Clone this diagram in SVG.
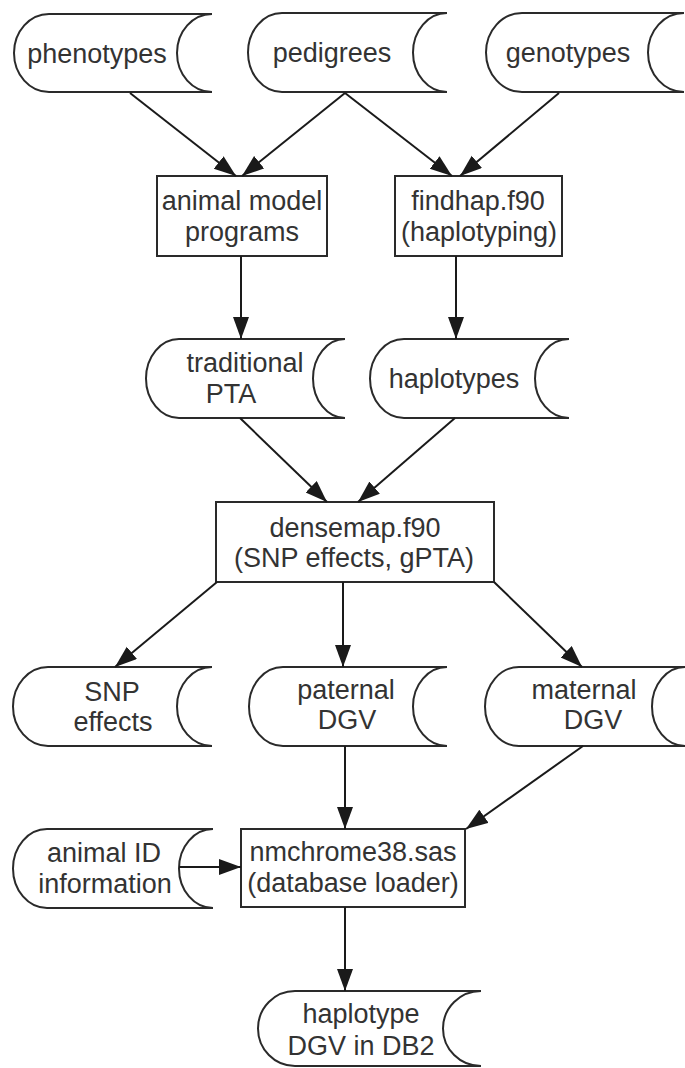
<svg xmlns="http://www.w3.org/2000/svg" width="685" height="1068" viewBox="0 0 685 1068">
<style>
.s{fill:#fff;stroke:#2a2a2a;stroke-width:2}
.b{fill:#fff;stroke:#2a2a2a;stroke-width:2}
.t{font-family:"Liberation Sans",Arial,sans-serif;font-size:27px;fill:#333;text-anchor:middle}
.c{fill:none;stroke:#1a1a1a;stroke-width:2}
</style>
<defs>
<marker id="ah" markerUnits="userSpaceOnUse" markerWidth="23" markerHeight="17" refX="22" refY="8" orient="auto">
<path d="M0,0 L22,8 L0,16 Z" fill="#1a1a1a"/>
</marker>
</defs>
<rect width="685" height="1068" fill="#fff"/>
<g id="phenotypes"><path class="s" d="M49,14 H212 A35,39 0 0 0 212,92 H49 A35,39 0 0 1 49,14 Z"/><text class="t" x="97" y="63">phenotypes</text></g>
<g id="pedigrees"><path class="s" d="M282,13 H447 A34,39.5 0 0 0 447,92 H282 A34,39.5 0 0 1 282,13 Z"/><text class="t" x="332" y="62">pedigrees</text></g>
<g id="genotypes"><path class="s" d="M522,13 H684 A36,39.5 0 0 0 684,92 H522 A36,39.5 0 0 1 522,13 Z"/><text class="t" x="568" y="62">genotypes</text></g>
<g id="animal_model"><rect class="b" x="157" y="176" width="170" height="80"/><text class="t" x="242" y="210">animal model</text><text class="t" x="242" y="241">programs</text></g>
<g id="findhap"><rect class="b" x="395" y="176" width="167" height="80"/><text class="t" x="478" y="210">findhap.f90</text><text class="t" x="479" y="241">(haplotyping)</text></g>
<g id="traditional_pta"><path class="s" d="M179,339 H345 A32,39.5 0 0 0 345,418 H179 A33,39.5 0 0 1 179,339 Z"/><text class="t" x="245" y="372">traditional</text><text class="t" x="231" y="403">PTA</text></g>
<g id="haplotypes"><path class="s" d="M404,339 H569 A34,39.5 0 0 0 569,418 H404 A34,39.5 0 0 1 404,339 Z"/><text class="t" x="454" y="388">haplotypes</text></g>
<g id="densemap"><rect class="b" x="216" y="502" width="278" height="80"/><text class="t" x="355" y="537">densemap.f90</text><text class="t" x="354" y="567">(SNP effects, gPTA)</text></g>
<g id="snp_effects"><path class="s" d="M48,667 H212 A35,39.5 0 0 0 212,746 H48 A35,39.5 0 0 1 48,667 Z"/><text class="t" x="112" y="701">SNP</text><text class="t" x="113" y="731">effects</text></g>
<g id="paternal_dgv"><path class="s" d="M283,667 H447 A34,39.5 0 0 0 447,746 H283 A34,39.5 0 0 1 283,667 Z"/><text class="t" x="346" y="699">paternal</text><text class="t" x="347" y="729">DGV</text></g>
<g id="maternal_dgv"><path class="s" d="M519,667 H685 A33,39.5 0 0 0 685,746 H519 A34,39.5 0 0 1 519,667 Z"/><text class="t" x="584" y="699">maternal</text><text class="t" x="593" y="729">DGV</text></g>
<g id="animal_id"><path class="s" d="M47,829 H213 A34,39.5 0 0 0 213,908 H47 A34,39.5 0 0 1 47,829 Z"/><text class="t" x="104" y="862">animal ID</text><text class="t" x="105" y="893">information</text></g>
<g id="nmchrome"><rect class="b" x="241" y="829" width="224" height="78"/><text class="t" x="353" y="861">nmchrome38.sas</text><text class="t" x="353" y="892">(database loader)</text></g>
<g id="haplotype_dgv"><path class="s" d="M295,991 H481 A38,37.5 0 0 0 481,1066 H295 A37,37.5 0 0 1 295,991 Z"/><text class="t" x="361" y="1023">haplotype</text><text class="t" x="361" y="1055">DGV in DB2</text></g>
<g id="connectors">
<line class="c" x1="130" y1="93" x2="236" y2="176" marker-end="url(#ah)"/>
<line class="c" x1="345" y1="93" x2="242" y2="176" marker-end="url(#ah)"/>
<line class="c" x1="345" y1="93" x2="452" y2="176" marker-end="url(#ah)"/>
<line class="c" x1="559" y1="93" x2="460" y2="176" marker-end="url(#ah)"/>
<line class="c" x1="241" y1="256" x2="241" y2="339" marker-end="url(#ah)"/>
<line class="c" x1="456" y1="256" x2="456" y2="339" marker-end="url(#ah)"/>
<line class="c" x1="240" y1="418" x2="327" y2="502" marker-end="url(#ah)"/>
<line class="c" x1="455" y1="418" x2="358" y2="502" marker-end="url(#ah)"/>
<line class="c" x1="217" y1="582" x2="115" y2="667" marker-end="url(#ah)"/>
<line class="c" x1="343" y1="582" x2="343" y2="667" marker-end="url(#ah)"/>
<line class="c" x1="494" y1="582" x2="582" y2="667" marker-end="url(#ah)"/>
<line class="c" x1="345" y1="746" x2="345" y2="829" marker-end="url(#ah)"/>
<line class="c" x1="583" y1="746" x2="466" y2="829" marker-end="url(#ah)"/>
<line class="c" x1="179" y1="867" x2="241" y2="867" marker-end="url(#ah)"/>
<line class="c" x1="345" y1="907" x2="345" y2="991" marker-end="url(#ah)"/>
</g>
</svg>
